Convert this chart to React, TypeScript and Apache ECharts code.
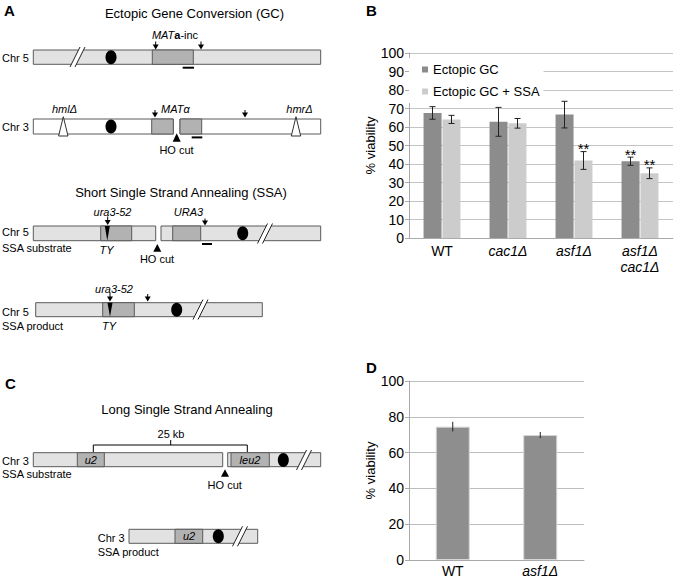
import React, { useEffect, useRef } from "react";
import * as echarts from "echarts";

const FF = "'Liberation Sans', Arial, Helvetica, sans-serif";

// Panel B data
const catsB = ["WT", "cac1Δ", "asf1Δ", "asf1Δ\ncac1Δ"];
const gcVals = [67.6, 62.8, 66.7, 41.5];
const gcErr = [3.4, 7.8, 7.2, 2.2];
const gcSig = ["", "", "", "**"];
const ssaVals = [64.1, 62.0, 41.9, 35.0];
const ssaErr = [2.2, 2.6, 4.8, 2.9];
const ssaSig = ["", "", "**", "**"];
const yTicksB = { min: 0, max: 100, interval: 10 };

// Panel D data
const catsD = ["WT", "asf1Δ"];
const dVals = [74.5, 69.8];
const dErr = [2.7, 1.7];
const yTicksD = { min: 0, max: 100, interval: 20 };

const CHR = "#e2e2e2";
const BOX = "#b2b2b2";
const STROKE = "#5a5a5a";

function T(x: number, y: number, text: string, extra: any = {}) {
  return {
    type: "text",
    x,
    y,
    z: 10,
    style: {
      text,
      fontSize: 11,
      fontFamily: FF,
      fill: "#000",
      align: "left",
      verticalAlign: "middle",
      ...extra,
    },
  };
}
function R(x1: number, y1: number, x2: number, y2: number, fill: string) {
  return {
    type: "rect",
    z: 1,
    shape: { x: x1, y: y1, width: x2 - x1, height: y2 - y1 },
    style: { fill, stroke: STROKE, lineWidth: 1 },
  };
}
function L(x1: number, y1: number, x2: number, y2: number, w = 1, c = "#000") {
  return { type: "line", z: 3, shape: { x1, y1, x2, y2 }, style: { stroke: c, lineWidth: w } };
}
function E(cx: number, cy: number) {
  return { type: "ellipse", z: 3, shape: { cx, cy, rx: 5.5, ry: 7 }, style: { fill: "#000" } };
}
function P(points: number[][], fill: string, stroke?: string) {
  return {
    type: "polygon",
    z: 4,
    shape: { points },
    style: stroke ? { fill, stroke, lineWidth: 1 } : { fill },
  };
}
function slash(cx: number, cy: number) {
  return [
    P(
      [
        [cx - 7.5, cy + 10],
        [cx + 2.5, cy - 10],
        [cx + 7.5, cy - 10],
        [cx - 2.5, cy + 10],
      ],
      "#ffffff"
    ),
    { ...L(cx - 7.5, cy + 10, cx + 2.5, cy - 10, 1, "#222"), z: 5 },
    { ...L(cx - 2.5, cy + 10, cx + 7.5, cy - 10, 1, "#222"), z: 5 },
  ];
}
function arrow(x: number, y1: number, y2: number) {
  return [
    L(x, y1, x, y2 - 4, 1),
    P(
      [
        [x - 3, y2 - 5],
        [x + 3, y2 - 5],
        [x, y2],
      ],
      "#000"
    ),
  ];
}
function hoTri(x: number, yt: number, yb: number) {
  return P(
    [
      [x - 4, yb],
      [x + 4, yb],
      [x, yt],
    ],
    "#000"
  );
}
function tyTri(x: number, yt: number, yb: number) {
  return P(
    [
      [x - 2.5, yt],
      [x + 2.5, yt],
      [x, yb],
    ],
    "#000"
  );
}
function whiteTri(x: number, yt: number, yb: number) {
  return P(
    [
      [x - 4.7, yb],
      [x + 4.7, yb],
      [x, yt],
    ],
    "#fff",
    "#333"
  );
}

const it = { fontStyle: "italic", fontSize: 11, fontFamily: FF, fill: "#000" };
const nm = { fontSize: 11, fontFamily: FF, fill: "#000" };
const bd = { fontWeight: "bold", fontSize: 11, fontFamily: FF, fill: "#000" };

function diagram(): any[] {
  const g: any[] = [];
  // Panel A
  g.push(T(4, 10, "A", { fontSize: 15, fontWeight: "bold" }));
  g.push(T(194.5, 13, "Ectopic Gene Conversion (GC)", { fontSize: 13, align: "center" }));
  // GC Chr 5
  g.push(T(2, 57.5, "Chr 5"));
  g.push(R(33.3, 50, 320.7, 64.3, CHR));
  g.push(R(152.3, 50, 193.3, 64.3, BOX));
  g.push(E(111, 57.3));
  g.push(...slash(77.5, 57));
  g.push(L(182.7, 67.7, 194, 67.7, 2));
  g.push(...arrow(155.7, 41.5, 49.5));
  g.push(...arrow(201, 41.5, 49.5));
  g.push({
    type: "text",
    x: 175,
    y: 34.5,
    z: 10,
    style: {
      text: "{i|MAT}{b|a}{n|-inc}",
      align: "center",
      verticalAlign: "middle",
      fontSize: 11,
      fontFamily: FF,
      rich: { i: it, b: bd, n: nm },
    },
  });
  // GC Chr 3
  g.push(T(2, 126.7, "Chr 3"));
  g.push(R(33.3, 119, 173.3, 134, "#fff"));
  g.push(R(180, 119, 320.7, 134, "#fff"));
  g.push(R(151.7, 119, 173.3, 134, BOX));
  g.push(R(180, 119, 201.7, 134, BOX));
  g.push(E(111, 126.5));
  g.push(whiteTri(63.3, 116.7, 136));
  g.push(whiteTri(296, 116.7, 136));
  g.push(T(64.5, 108.5, "hmlΔ", { fontStyle: "italic", align: "center" }));
  g.push(T(299.5, 108.5, "hmrΔ", { fontStyle: "italic", align: "center" }));
  g.push(...arrow(155, 110, 117.5));
  g.push(...arrow(245, 110, 117.5));
  g.push(T(161, 109, "MATα", { fontStyle: "italic" }));
  g.push(hoTri(176.7, 133.3, 141.7));
  g.push(T(176.5, 149.5, "HO cut", { align: "center" }));
  g.push(L(191.7, 137.4, 202.3, 137.4, 2));

  // Short SSA
  g.push(T(181, 192, "Short Single Strand Annealing (SSA)", { fontSize: 13, align: "center" }));
  g.push(T(2, 231.7, "Chr 5"));
  g.push(T(2, 248.3, "SSA substrate"));
  g.push(R(33.3, 226, 155.7, 240.7, CHR));
  g.push(R(100.7, 226, 131.7, 240.7, BOX));
  g.push(tyTri(107.3, 226, 240.7));
  g.push(T(112.5, 211.7, "ura3-52", { fontStyle: "italic", align: "center" }));
  g.push(...arrow(107.7, 216.5, 225));
  g.push(T(106.5, 249.5, "TY", { fontStyle: "italic", align: "center" }));
  g.push(R(161, 226, 320.7, 240.7, CHR));
  g.push(R(172.7, 226, 200.7, 240.7, BOX));
  g.push(E(242.7, 233.3));
  g.push(...slash(265, 233.5));
  g.push(...arrow(205, 218.5, 225.5));
  g.push(T(188.5, 211.7, "URA3", { fontStyle: "italic", align: "center" }));
  g.push(L(202, 244, 212, 244, 2));
  g.push(hoTri(157.3, 244, 251.7));
  g.push(T(157, 258.5, "HO cut", { align: "center" }));

  // SSA product
  g.push(T(2, 311.7, "Chr 5"));
  g.push(T(2, 325.5, "SSA product"));
  g.push(R(35.7, 302.7, 262.3, 316.7, CHR));
  g.push(R(102.7, 302.7, 134.3, 316.7, BOX));
  g.push(tyTri(110, 302.7, 316.7));
  g.push(...arrow(110, 293, 301.5));
  g.push(...arrow(147.7, 294, 301.5));
  g.push(T(114, 288.5, "ura3-52", { fontStyle: "italic", align: "center" }));
  g.push(T(109, 325.5, "TY", { fontStyle: "italic", align: "center" }));
  g.push(E(176.7, 309.7));
  g.push(...slash(200.5, 309.5));

  // Panel C
  g.push(T(5, 383, "C", { fontSize: 15, fontWeight: "bold" }));
  g.push(T(187, 409.5, "Long Single Strand Annealing", { fontSize: 13, align: "center" }));
  g.push(T(171, 434, "25 kb", { align: "center" }));
  g.push(L(93.3, 445, 247.3, 445, 1));
  g.push(L(93.3, 445, 93.3, 452, 1));
  g.push(L(247.3, 445, 247.3, 452, 1));
  g.push(L(170.7, 440, 170.7, 445, 1));
  g.push(T(2, 460.7, "Chr 3"));
  g.push(T(2, 473.5, "SSA substrate"));
  g.push(R(33.3, 452.7, 222.7, 466.7, CHR));
  g.push(R(77.3, 452.7, 104.3, 466.7, BOX));
  g.push(T(90.8, 460, "u2", { fontStyle: "italic", align: "center" }));
  g.push(R(227.7, 452.7, 320.7, 466.7, CHR));
  g.push(R(231, 452.7, 269.3, 466.7, BOX));
  g.push(T(250, 460, "leu2", { fontStyle: "italic", align: "center" }));
  g.push(E(283.3, 460));
  g.push(...slash(304, 460));
  g.push(hoTri(225, 469.3, 476.7));
  g.push(T(224.7, 484.5, "HO cut", { align: "center" }));
  // C product
  g.push(T(97.7, 537.5, "Chr 3"));
  g.push(T(97.7, 552, "SSA product"));
  g.push(R(129, 529.3, 257.7, 543.3, CHR));
  g.push(R(175, 529.3, 202.7, 543.3, BOX));
  g.push(T(189, 536.3, "u2", { fontStyle: "italic", align: "center" }));
  g.push(E(218.3, 536.3));
  g.push(...slash(240, 536.3));

  // Panel letters B and D
  g.push(T(366, 10, "B", { fontSize: 15, fontWeight: "bold" }));
  g.push(T(366, 367, "D", { fontSize: 15, fontWeight: "bold" }));
  return g;
}

function errSeries(
  name: string,
  vals: number[],
  errs: number[],
  sig: string[],
  off: number,
  caps: boolean,
  axis: number
) {
  return {
    type: "custom",
    name,
    xAxisIndex: axis,
    yAxisIndex: axis,
    z: 5,
    silent: true,
    data: vals.map((v, i) => [i, v - errs[i], v + errs[i]]),
    encode: { x: 0, y: [1, 2] },
    renderItem: (params: any, api: any) => {
      const i = api.value(0);
      const lo = api.coord([i, api.value(1)]);
      const hi = api.coord([i, api.value(2)]);
      const x = lo[0] + off;
      const children: any[] = [
        { type: "line", shape: { x1: x, y1: lo[1], x2: x, y2: hi[1] }, style: { stroke: "#222", lineWidth: 1 } },
      ];
      if (caps) {
        children.push({ type: "line", shape: { x1: x - 3, y1: lo[1], x2: x + 3, y2: lo[1] }, style: { stroke: "#222", lineWidth: 1 } });
        children.push({ type: "line", shape: { x1: x - 3, y1: hi[1], x2: x + 3, y2: hi[1] }, style: { stroke: "#222", lineWidth: 1 } });
      }
      const s = sig[params.dataIndex];
      if (s) {
        children.push({
          type: "text",
          x,
          y: hi[1] - 3,
          style: { text: s, fontSize: 15, fontFamily: FF, fill: "#000", align: "center", verticalAlign: "middle" },
        });
      }
      return { type: "group", children };
    },
  };
}

export default function App() {
  const ref = useRef<HTMLDivElement>(null);
  useEffect(() => {
    if (!ref.current) return;
    const chart = echarts.init(ref.current, undefined, { renderer: "svg" });
    const barW = 18;
    const gap = 1;
    const off = (barW + gap) / 2;
    const axisLabelStyle = { fontSize: 14, color: "#000", fontFamily: FF };
    const option: any = {
      animation: false,
      textStyle: { fontFamily: FF },
      grid: [
        { left: 409, top: 53, width: 264, height: 185 },
        { left: 409, top: 381, width: 175, height: 179 },
      ],
      legend: {
        data: ["Ectopic GC", "Ectopic GC + SSA"],
        orient: "vertical",
        left: 409,
        top: 58,
        backgroundColor: "#fff",
        padding: [5, 4, 5, 13],
        itemWidth: 6,
        itemHeight: 6,
        itemGap: 9,
        icon: "rect",
        textStyle: { fontSize: 13, color: "#000", fontFamily: FF, lineHeight: 13 },
      },
      xAxis: [
        {
          type: "category",
          gridIndex: 0,
          data: catsB,
          axisLine: { lineStyle: { color: "#aaa" } },
          axisTick: { show: false },
          axisLabel: {
            ...axisLabelStyle,
            interval: 0,
            margin: 5,
            lineHeight: 16,
            formatter: (v: string) =>
              v === "WT" ? v : v.split("\n").map((s) => "{i|" + s + "}").join("\n"),
            rich: { i: { fontStyle: "italic", fontSize: 14, fontFamily: FF, color: "#000", lineHeight: 16 } },
          },
        },
        {
          type: "category",
          gridIndex: 1,
          data: catsD,
          axisLine: { lineStyle: { color: "#aaa" } },
          axisTick: { show: false },
          axisLabel: {
            ...axisLabelStyle,
            interval: 0,
            margin: 4,
            formatter: (v: string) => (v === "WT" ? v : "{i|" + v + "}"),
            rich: { i: { fontStyle: "italic", fontSize: 14, fontFamily: FF, color: "#000" } },
          },
        },
      ],
      yAxis: [
        {
          type: "value",
          gridIndex: 0,
          ...yTicksB,
          name: "% viability",
          nameLocation: "middle",
          nameGap: 28,
          nameTextStyle: { fontSize: 13, color: "#000", fontFamily: FF },
          axisLine: { show: true, lineStyle: { color: "#aaa" } },
          axisTick: { show: true, length: 4, lineStyle: { color: "#aaa" } },
          splitLine: { lineStyle: { color: "#c4c4c4" } },
          axisLabel: { ...axisLabelStyle, margin: 5 },
        },
        {
          type: "value",
          gridIndex: 1,
          ...yTicksD,
          name: "% viability",
          nameLocation: "middle",
          nameGap: 28,
          nameTextStyle: { fontSize: 13, color: "#000", fontFamily: FF },
          axisLine: { show: true, lineStyle: { color: "#aaa" } },
          axisTick: { show: true, length: 4, lineStyle: { color: "#aaa" } },
          splitLine: { lineStyle: { color: "#bdbdbd" } },
          axisLabel: { ...axisLabelStyle, margin: 5 },
        },
      ],
      series: [
        {
          type: "bar",
          name: "Ectopic GC",
          xAxisIndex: 0,
          yAxisIndex: 0,
          data: gcVals,
          barWidth: barW,
          barGap: "5%",
          itemStyle: { color: "#8c8c8c" },
          silent: true,
        },
        {
          type: "bar",
          name: "Ectopic GC + SSA",
          xAxisIndex: 0,
          yAxisIndex: 0,
          data: ssaVals,
          barWidth: barW,
          barGap: "5%",
          itemStyle: { color: "#cccccc" },
          silent: true,
        },
        {
          type: "bar",
          name: "Long SSA",
          xAxisIndex: 1,
          yAxisIndex: 1,
          data: dVals,
          barWidth: 34,
          itemStyle: { color: "#8e8e8e", borderColor: "#d6d6d6", borderWidth: 1 },
          silent: true,
        },
        errSeries("errGC", gcVals, gcErr, gcSig, -off, true, 0),
        errSeries("errSSA", ssaVals, ssaErr, ssaSig, off, true, 0),
        errSeries("errD", dVals, dErr, ["", ""], 0, false, 1),
      ],
      graphic: { elements: diagram() },
    };
    chart.setOption(option);
    return () => chart.dispose();
  }, []);
  return (
    <div
      ref={ref}
      style={{ position: "absolute", left: 0, top: 0, width: 675, height: 578, background: "#fff" }}
    />
  );
}
